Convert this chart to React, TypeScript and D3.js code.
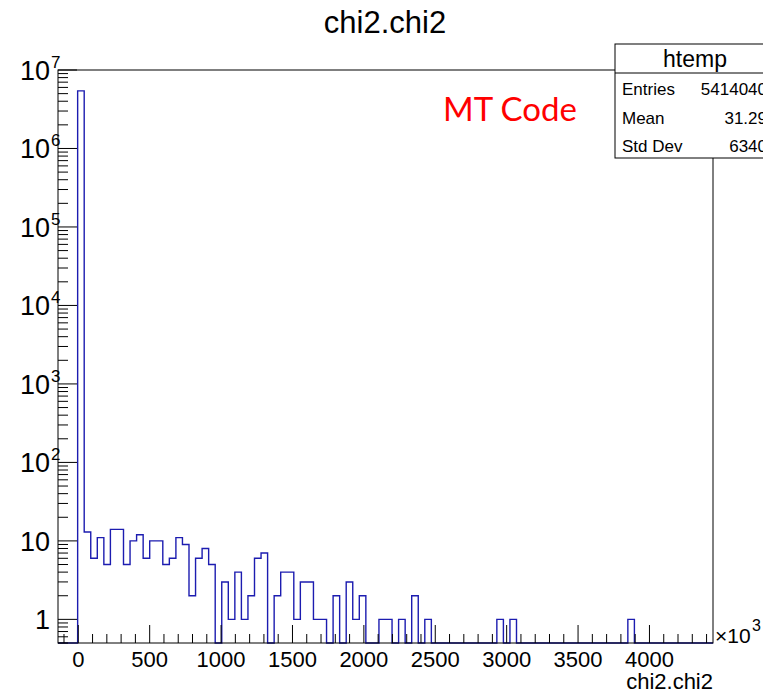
import React from "react";
import * as d3 from "d3";

const title = "chi2.chi2";
const xTitle = "chi2.chi2";
const histName = "htemp";
const statLabels = ["Entries", "Mean", "Std Dev"];
const statValues = ["5414040", "31.29", "6340"];
const annotation = "MT Code";

const xMin = -142;
const xMax = 4445;
const yMin = 0.5;
const yMax = 1e7;

// 100 bins between xMin and xMax
const counts: number[] = [
  0, 0, 0, 5413812, 13, 6, 11, 5, 14, 14,
  5, 10, 12, 6, 10, 10, 5, 6, 11, 9,
  2, 6, 8, 5, 0, 3, 1, 4, 1, 2,
  6, 7, 0, 2, 4, 4, 1, 3, 3, 1,
  1, 0, 2, 0, 3, 1, 2, 0, 0, 1,
  1, 0, 1, 0, 2, 0, 1, 0, 0, 0,
  0, 0, 0, 0, 0, 0, 0, 1, 0, 1,
  0, 0, 0, 0, 0, 0, 0, 0, 0, 0,
  0, 0, 0, 0, 0, 0, 0, 1, 0, 0,
  0, 0, 0, 0, 0, 0, 0, 0, 0, 0,
];

const xMajorTicks = [0, 500, 1000, 1500, 2000, 2500, 3000, 3500, 4000];
const yDecades = [0, 1, 2, 3, 4, 5, 6, 7];

const W = 763;
const H = 693;
const L = 58, R = 713, T = 70, B = 643;
const FONT = "'Liberation Sans', Arial, Helvetica, sans-serif";

export default function App() {
  const x = d3.scaleLinear().domain([xMin, xMax]).range([L, R]);
  const y = d3.scaleLog().domain([yMin, yMax]).range([B, T]);
  const n = counts.length;
  const bw = (xMax - xMin) / n;

  let path = `M${x(xMin)},${B}`;
  counts.forEach((c, i) => {
    const yv = y(Math.max(c, yMin));
    path += `L${x(xMin + i * bw)},${yv}L${x(xMin + (i + 1) * bw)},${yv}`;
  });
  path += `L${x(xMax)},${B}`;

  const xMinor = d3.range(-100, 4500, 100).filter((v) => v % 500 !== 0 && v > xMin && v < xMax);

  const yMinor: number[] = [];
  for (let k = -1; k <= 6; k++) {
    for (let m = 2; m <= 9; m++) {
      const v = m * Math.pow(10, k);
      if (v >= yMin && v <= yMax) yMinor.push(v);
    }
  }

  return (
    <svg width={W} height={H} style={{ position: "absolute", left: 0, top: 0, background: "#fff" }} fontFamily={FONT}>
      <rect x={0} y={0} width={W} height={H} fill="#fff" />
      <text x={385} y={33} fontSize={31} textAnchor="middle">{title}</text>

      <path d={path} fill="none" stroke="#1c1cb0" strokeWidth={1.4} />

      <rect x={L} y={T} width={R - L} height={B - T} fill="none" stroke="#000" strokeWidth={1} />

      {yDecades.map((k) => (
        <line key={"yM" + k} x1={L} x2={L + 19} y1={y(Math.pow(10, k))} y2={y(Math.pow(10, k))} stroke="#000" />
      ))}
      {yMinor.map((v, i) => (
        <line key={"ym" + i} x1={L} x2={L + 10} y1={y(v)} y2={y(v)} stroke="#000" />
      ))}
      {yDecades.map((k) => {
        const yy = y(Math.pow(10, k));
        if (k === 0) return <text key={"yl" + k} x={50} y={yy + 10} fontSize={27} textAnchor="end">1</text>;
        if (k === 1) return <text key={"yl" + k} x={50} y={yy + 10} fontSize={27} textAnchor="end">10</text>;
        return (
          <g key={"yl" + k}>
            <text x={50} y={yy + 10} fontSize={27} textAnchor="end">10</text>
            <text x={51} y={yy - 2} fontSize={17} textAnchor="start">{k}</text>
          </g>
        );
      })}

      {xMajorTicks.map((v) => (
        <line key={"xM" + v} x1={x(v)} x2={x(v)} y1={B} y2={B - 18} stroke="#000" />
      ))}
      {xMinor.map((v) => (
        <line key={"xm" + v} x1={x(v)} x2={x(v)} y1={B} y2={B - 9} stroke="#000" />
      ))}
      {xMajorTicks.map((v) => (
        <text key={"xl" + v} x={x(v)} y={667} fontSize={22} textAnchor="middle">{v}</text>
      ))}
      <text x={715} y={643} fontSize={21}>×10</text>
      <text x={752} y={631} fontSize={16}>3</text>
      <text x={713} y={689} fontSize={22} textAnchor="end">{xTitle}</text>

      <text x={443} y={121} fontSize={33} fill="#ff0000" fontFamily="Lato, 'Open Sans', sans-serif">{annotation}</text>

      <rect x={615} y={44} width={170} height={114} fill="#fff" stroke="#000" strokeWidth={1} />
      <line x1={615} x2={785} y1={73} y2={73} stroke="#000" />
      <text x={695} y={67} fontSize={23} textAnchor="middle">{histName}</text>
      {statLabels.map((s, i) => (
        <g key={s}>
          <text x={622} y={95 + i * 28.5} fontSize={17}>{s}</text>
          <text x={767} y={95 + i * 28.5} fontSize={17} textAnchor="end">{statValues[i]}</text>
        </g>
      ))}
    </svg>
  );
}
